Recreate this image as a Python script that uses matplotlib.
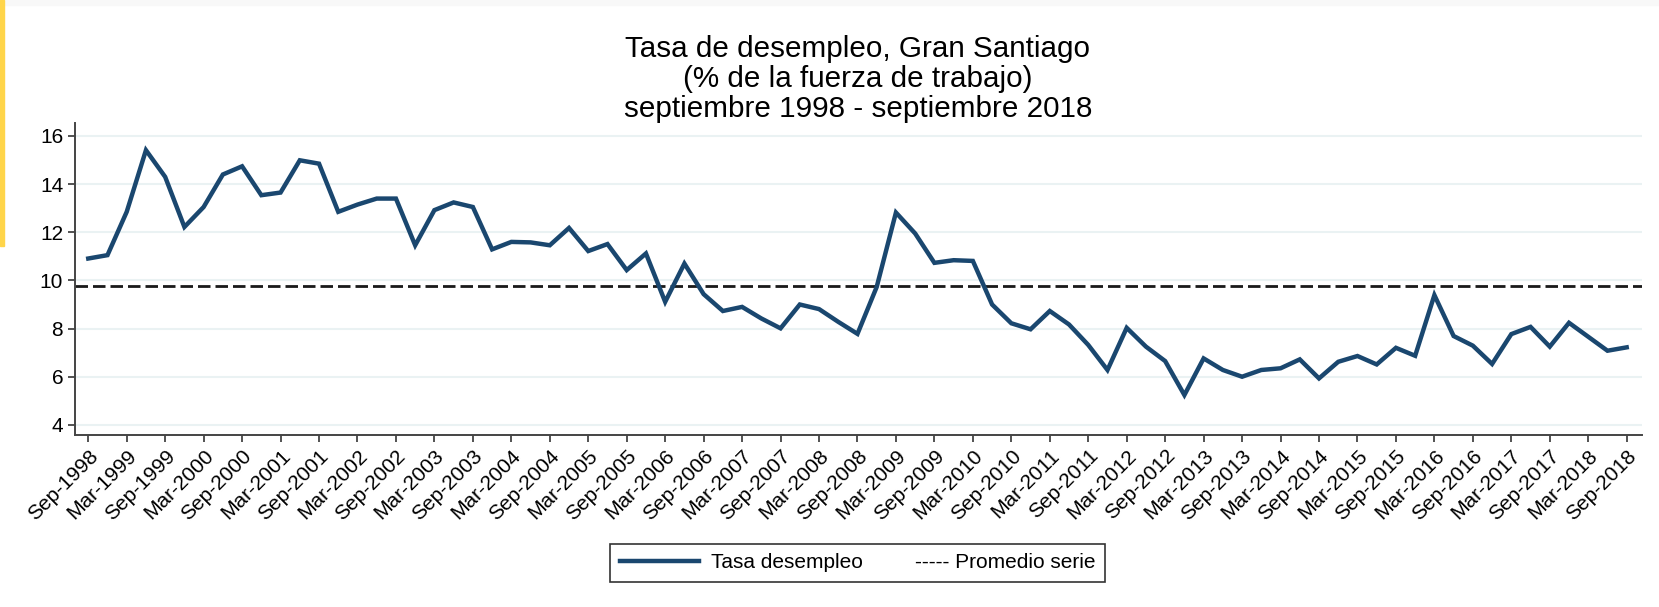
import pandas as pd
import matplotlib.pyplot as plt
from matplotlib.lines import Line2D
from matplotlib.patches import Rectangle

plt.rcParams['font.family'] = ['Liberation Sans', 'DejaVu Sans']

# Quarterly data, Sep-1998 .. Sep-2018
quarters = pd.date_range('1998-09-01', '2018-09-01', freq='3MS')
desempleo = [10.91, 11.05, 12.85, 15.41, 14.30, 12.22, 13.05, 14.40, 14.74, 13.54,
             13.65, 14.99, 14.85, 12.85, 13.15, 13.40, 13.40, 11.46, 12.92, 13.24,
             13.05, 11.29, 11.60, 11.58, 11.46, 12.18, 11.22, 11.51, 10.43, 11.12,
             9.11, 10.70, 9.43, 8.73, 8.90, 8.42, 8.01, 9.00, 8.81, 8.28,
             7.78, 9.73, 12.82, 11.95, 10.73, 10.84, 10.81, 9.00, 8.22, 7.97,
             8.73, 8.17, 7.32, 6.28, 8.03, 7.25, 6.65, 5.24, 6.76, 6.28,
             6.00, 6.28, 6.35, 6.72, 5.93, 6.62, 6.86, 6.51, 7.20, 6.87,
             9.39, 7.69, 7.29, 6.53, 7.77, 8.07, 7.25, 8.24, 7.66, 7.08, 7.22]
y_ticks = [4, 6, 8, 10, 12, 14, 16]

promedio = sum(desempleo) / len(desempleo)
x = list(range(len(desempleo)))
tick_pos = x[::2]
tick_labels = [d.strftime('%b-%Y') for d in quarters[::2]]

fig = plt.figure(figsize=(16.59, 6.07), dpi=100)
ax = fig.add_axes([0.0452, 0.2834, 0.9446, 0.5136])

# screenshot edges
fig.patches.append(Rectangle((0, 0.992), 1, 0.008, transform=fig.transFigure,
                             color='#f8f8f8', zorder=0))
fig.patches.append(Rectangle((0, 0.595), 0.0025, 0.405, transform=fig.transFigure,
                             color='#ffd54a', zorder=1))

for v in y_ticks:
    ax.axhline(v, color='#eaf2f3', lw=1.5, zorder=1)

ax.plot(x, desempleo, color='#1a476f', lw=3.2, zorder=3,
        solid_joinstyle='miter')
ax.axhline(promedio, color='#1a1a1a', lw=2.0, dashes=(4.5, 1.8), zorder=2)

ax.set_xlim(-0.69, 80.8)
ax.set_ylim(3.58, 16.53)
ax.set_yticks(y_ticks)
ax.set_xticks(tick_pos)
ax.set_xticklabels(tick_labels, rotation=45, ha='right', rotation_mode='anchor')

for s in ['top', 'right']:
    ax.spines[s].set_visible(False)
for s in ['left', 'bottom']:
    ax.spines[s].set_color('#444444')
    ax.spines[s].set_linewidth(1.4)
ax.tick_params(axis='both', length=5, width=1.3, color='#444444',
               labelsize=15, labelcolor='black')
ax.tick_params(axis='x', pad=3)

fig.text(0.517, 0.942, 'Tasa de desempleo, Gran Santiago\n(% de la fuerza de trabajo)\n'
         'septiembre 1998 - septiembre 2018',
         ha='center', va='top', fontsize=21.3, linespacing=1.08)

handles = [Line2D([], [], color='#1a476f', lw=3.2),
           Line2D([], [], color='none')]
leg = fig.legend(handles, ['Tasa desempleo', '----- Promedio serie'],
                 loc='center', bbox_to_anchor=(0.517, 0.0725), ncol=2,
                 fontsize=15, frameon=True, fancybox=False, framealpha=1,
                 handlelength=3.8, handletextpad=0.6, columnspacing=-1.9,
                 borderpad=0.45, borderaxespad=0)
leg.get_frame().set_edgecolor('#333333')
leg.get_frame().set_linewidth(1.2)

plt.savefig('out.png', dpi=100)
